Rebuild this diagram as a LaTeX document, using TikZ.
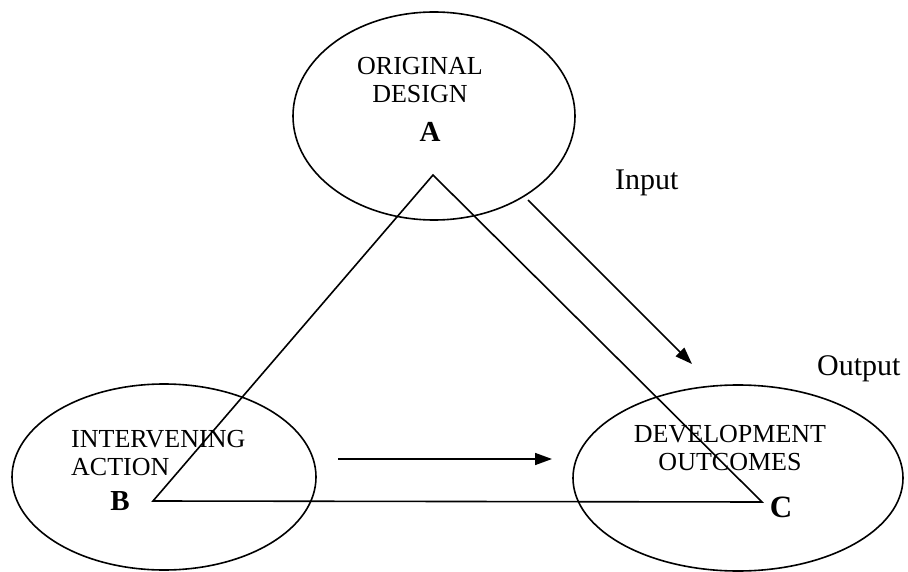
\documentclass[tikz,border=0pt]{standalone}
\usepackage{fontspec}
\setmainfont{Liberation Serif}
\usetikzlibrary{shapes.geometric,arrows.meta}

\tikzset{
  oval/.style={draw, ellipse, line width=1.6pt, inner sep=0pt},
  edge/.style={line width=1.6pt, line join=miter},
  flow/.style={line width=1.6pt, -{Triangle[length=17pt,width=12pt]}},
  caption/.style={inner sep=0pt, font=\fontsize{26}{28}\selectfont},
  letter/.style={inner sep=0pt, font=\fontsize{29}{30}\selectfont\bfseries},
  side/.style={inner sep=0pt, anchor=base west, font=\fontsize{30}{32}\selectfont}
}

\begin{document}
\begin{tikzpicture}[x=1pt, y=-1pt]
  \useasboundingbox (0,0) rectangle (908,572);

  % the three ovals
  \node[oval, minimum width=282pt, minimum height=208pt] (ovA) at (434,116) {};
  \node[oval, minimum width=304pt, minimum height=186pt] (ovB) at (164,477) {};
  \node[oval, minimum width=330pt, minimum height=186pt] (ovC) at (738,478) {};

  % triangle corners
  \coordinate (tA) at (433,175);
  \coordinate (tB) at (153,501);
  \coordinate (tC) at (762,502);
  \draw[edge] (tA) -- (tB) -- (tC) -- cycle;

  % labels inside the ovals
  \node[caption, anchor=north, align=center] (txtA) at (420,57) {ORIGINAL\\DESIGN};
  \node[letter] (lA) at (430,132) {A};
  \node[caption, anchor=north west, align=left] (txtB) at (71,430) {INTERVENING\\ACTION};
  \node[letter] (lB) at (120,501) {B};
  \node[caption, anchor=north, align=center] (txtC) at (730,425) {DEVELOPMENT\\OUTCOMES};
  \node[letter, font=\fontsize{31}{32}\selectfont\bfseries] (lC) at (781,507) {C};

  % side labels
  \node[side] (inp) at (615,190) {Input};
  \node[side] (outp) at (817,375) {Output};

  % arrows
  \coordinate (a1s) at (528,200);
  \coordinate (a1e) at (692,364);
  \draw[flow] (a1s) -- (a1e);
  \coordinate (a2s) at (338,459);
  \coordinate (a2e) at (552,459);
  \draw[flow] (a2s) -- (a2e);
\end{tikzpicture}
\end{document}
